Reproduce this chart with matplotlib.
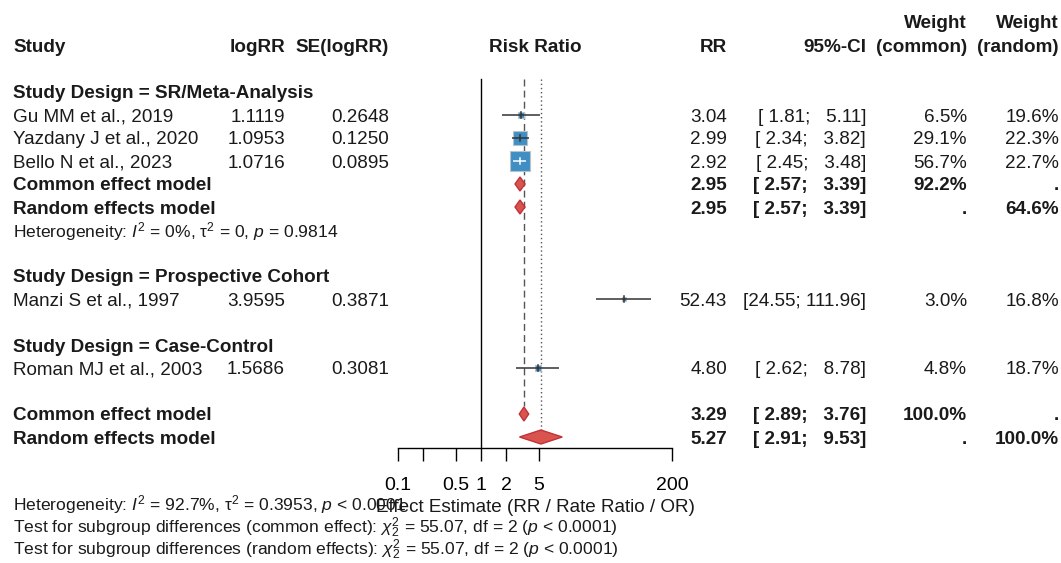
import numpy as np
import matplotlib
matplotlib.use("Agg")
import matplotlib.pyplot as plt
from matplotlib.patches import Polygon

plt.rcParams['font.family'] = ['Liberation Sans', 'DejaVu Sans']
plt.rcParams['mathtext.fontset'] = 'custom'
plt.rcParams['mathtext.rm'] = 'Liberation Sans'
plt.rcParams['mathtext.it'] = 'Liberation Sans:italic'
plt.rcParams['mathtext.bf'] = 'Liberation Sans:bold'

# ── data ─────────────────────────────────────────────────────────────────────
studies   = ["Gu MM et al., 2019", "Yazdany J et al., 2020", "Bello N et al., 2023",
             "Manzi S et al., 1997", "Roman MJ et al., 2003"]
design    = ["SR/Meta-Analysis", "SR/Meta-Analysis", "SR/Meta-Analysis",
             "Prospective Cohort", "Case-Control"]
log_rr    = [1.1119, 1.0953, 1.0716, 3.9595, 1.5686]
se_log_rr = [0.2648, 0.1250, 0.0895, 0.3871, 0.3081]
rr        = [3.04, 2.99, 2.92, 52.43, 4.80]
ci_low    = [1.81, 2.34, 2.45, 24.55, 2.62]
ci_high   = [5.11, 3.82, 3.48, 111.96, 8.78]
w_common  = [6.5, 29.1, 56.7, 3.0, 4.8]
w_random  = [19.6, 22.3, 22.7, 16.8, 18.7]

# pooled: (label, est, lo, hi, w_common, w_random)
sub_pooled = [("Common effect model", 2.95, 2.57, 3.39, "92.2%", "."),
              ("Random effects model", 2.95, 2.57, 3.39, ".", "64.6%")]
sub_het = r"Heterogeneity: $I^2$ = 0%, τ$^2$ = 0, $p$ = 0.9814"
overall = [("Common effect model", 3.29, 2.89, 3.76, "100.0%", "."),
           ("Random effects model", 5.27, 2.91, 9.53, ".", "100.0%")]
foot = [r"Heterogeneity: $I^2$ = 92.7%, τ$^2$ = 0.3953, $p$ < 0.0001",
        r"Test for subgroup differences (common effect): $\chi^2_2$ = 55.07, df = 2 ($p$ < 0.0001)",
        r"Test for subgroup differences (random effects): $\chi^2_2$ = 55.07, df = 2 ($p$ < 0.0001)"]
xticks = [0.1, 0.2, 0.5, 1, 2, 5, 200]
xticklabels = ["0.1", "", "0.5", "1", "2", "5", "200"]

# ── layout ───────────────────────────────────────────────────────────────────
W, H = 1061, 563
FS = 13.6
FS_HET = 12.6
TXT = "#1a1a1a"
x_study, x_lrr, x_se = 13, 285, 389
x_rr, x_ci, x_wc, x_wr = 727, 866, 967, 1059
fx0, fx1, fy_axis, fy_top = 398, 672, 448, 79
y0, dy = 92, 23

fig = plt.figure(figsize=(W / 100, H / 100), dpi=100)
ax_t = fig.add_axes([0, 0, 1, 1])
ax_t.set_xlim(0, W); ax_t.set_ylim(H, 0); ax_t.axis("off")

ax_f = fig.add_axes([fx0 / W, (H - fy_axis) / H, (fx1 - fx0) / W, fy_axis / H])
ax_f.set_xscale("log")
ax_f.set_xlim(0.1, 200); ax_f.set_ylim(fy_axis, 0)
ax_f.patch.set_visible(False)
for s in ("left", "top", "right"):
    ax_f.spines[s].set_visible(False)
ax_f.spines["bottom"].set_linewidth(1.0)
ax_f.set_yticks([])
ax_f.set_xticks(xticks)
ax_f.set_xticklabels(xticklabels)
ax_f.minorticks_off()
ax_f.tick_params(axis="x", direction="out", length=9.4, width=1.0, pad=11.5,
                 labelsize=14, colors="black")
ax_f.set_xticks([], minor=True)

def rowy(i):
    return y0 + dy * i

def txt(x, y, s, ha="left", bold=False, size=FS, dy_off=2):
    ax_t.text(x, y + dy_off, s, ha=ha, va="center", fontsize=size, color=TXT,
              fontweight="bold" if bold else "normal")

def ci_str(lo, hi):
    return "[%5.2f; %6.2f]" % (lo, hi)

def diamond(est, lo, hi, y, h=7):
    ax_f.add_patch(Polygon([(lo, y), (est, y - h), (hi, y), (est, y + h)],
                           closed=True, fc="#D9544D", ec="#C0323A", lw=1.0, zorder=4))

# headers
txt(x_study, 46, "Study", bold=True)
txt(x_lrr, 46, "logRR", ha="right", bold=True)
txt(x_se, 46, "SE(logRR)", ha="right", bold=True)
txt((fx0 + fx1) / 2, 46, "Risk Ratio", ha="center", bold=True)
txt(x_rr, 46, "RR", ha="right", bold=True)
txt(x_ci, 46, "95%-CI", ha="right", bold=True)
txt(x_wc, 22, "Weight", ha="right", bold=True)
txt(x_wc, 46, "(common)", ha="right", bold=True)
txt(x_wr, 22, "Weight", ha="right", bold=True)
txt(x_wr, 46, "(random)", ha="right", bold=True)

# reference lines
ax_f.plot([1, 1], [fy_top, fy_axis], color="black", lw=1.0, zorder=1)
ax_f.plot([overall[0][1]] * 2, [fy_top, rowy(14) - 8], color="#555555", lw=1.0,
          ls=(0, (5, 3)), zorder=1)
ax_f.plot([overall[1][1]] * 2, [fy_top, rowy(15) - 7], color="#555555", lw=1.0,
          ls=(0, (1, 2)), zorder=1)

# study rows
px_dec = (fx1 - fx0) / np.log10(200 / 0.1)
row_of = {0: 1, 1: 2, 2: 3, 3: 9, 4: 12}
heads = {0: 0, 3: 8, 4: 11}
for i in range(len(studies)):
    if i in heads:
        txt(x_study, rowy(heads[i]), "Study Design = " + design[i], bold=True)
    y = rowy(row_of[i])
    txt(x_study, y, studies[i])
    txt(x_lrr, y, "%.4f" % log_rr[i], ha="right")
    txt(x_se, y, "%.4f" % se_log_rr[i], ha="right")
    txt(x_rr, y, "%.2f" % rr[i], ha="right")
    txt(x_ci, y, ci_str(ci_low[i], ci_high[i]), ha="right")
    txt(x_wc, y, "%.1f%%" % w_common[i], ha="right")
    txt(x_wr, y, "%.1f%%" % w_random[i], ha="right")

    side = 2.6 * np.sqrt(w_common[i])
    ci_px = px_dec * np.log10(ci_high[i] / ci_low[i])
    inside = ci_px < side
    lc = "white" if inside else "#333333"
    ax_f.plot([rr[i]], [y], marker="s", ms=side * 0.72, mfc="#3F8FC5",
              mec="#B8C4CC", mew=0.8, zorder=3)
    ax_f.plot([ci_low[i], ci_high[i]], [y, y], color=lc, lw=1.1, zorder=4,
              solid_capstyle="butt")
    ax_f.plot([rr[i], rr[i]], [y - 3, y + 3], color=lc, lw=1.1, zorder=4)

# subgroup pooled
for k, (lab, est, lo, hi, wc, wr) in enumerate(sub_pooled):
    y = rowy(4 + k)
    txt(x_study, y, lab, bold=True)
    txt(x_rr, y, "%.2f" % est, ha="right", bold=True)
    txt(x_ci, y, ci_str(lo, hi), ha="right", bold=True)
    txt(x_wc, y, wc, ha="right", bold=True)
    txt(x_wr, y, wr, ha="right", bold=True)
    diamond(est, lo, hi, y)
txt(x_study, rowy(6), sub_het, size=FS_HET)

# overall pooled
for k, (lab, est, lo, hi, wc, wr) in enumerate(overall):
    y = rowy(14 + k)
    txt(x_study, y, lab, bold=True)
    txt(x_rr, y, "%.2f" % est, ha="right", bold=True)
    txt(x_ci, y, ci_str(lo, hi), ha="right", bold=True)
    txt(x_wc, y, wc, ha="right", bold=True)
    txt(x_wr, y, wr, ha="right", bold=True)
    diamond(est, lo, hi, y)

# axis label and footers
txt((fx0 + fx1) / 2, 505, "Effect Estimate (RR / Rate Ratio / OR)", ha="center")
for k, s in enumerate(foot):
    txt(x_study, 505 + 22.5 * k, s, size=FS_HET, dy_off=0)

fig.savefig("out.png", dpi=100, facecolor="white")
